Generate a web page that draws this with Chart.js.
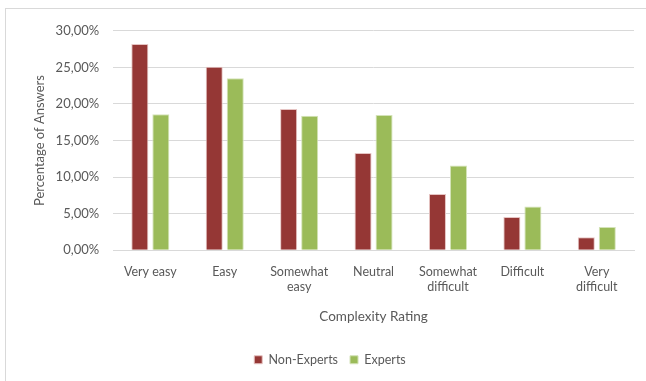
<!DOCTYPE html>
<html>
<head>
<meta charset="utf-8">
<script src="https://cdn.jsdelivr.net/npm/chart.js@4"></script>
<style>
  html, body { margin: 0; padding: 0; background: #fff; }
  #wrap {
    position: absolute; left: 5px; top: 8px; width: 650px; height: 380px;
    border-left: 1px solid #d9d9d9; border-top: 1px solid #d9d9d9;
  }
  #box { position: absolute; left: 0; top: 0; width: 641px; height: 372px; }
</style>
</head>
<body>
<div id="wrap"><div id="box"><canvas id="chart"></canvas></div></div>
<script>
const categories = [['Very easy'], ['Easy'], ['Somewhat', 'easy'], ['Neutral'], ['Somewhat', 'difficult'], ['Difficult'], ['Very', 'difficult']];
const nonExperts = [28.2, 25.1, 19.3, 13.3, 7.7, 4.55, 1.8];
const experts = [18.6, 23.5, 18.4, 18.5, 11.6, 6.0, 3.2];
const yTicks = [0, 5, 10, 15, 20, 25, 30];

const fontFamily = 'Lato, "Open Sans", sans-serif';
const grey = '#595959';

new Chart(document.getElementById('chart'), {
    type: 'bar',
    data: {
        labels: categories,
        datasets: [
            { label: 'Non-Experts', data: nonExperts, backgroundColor: '#953735', borderColor: '#e6c4c3', borderWidth: 1 },
            { label: 'Experts', data: experts, backgroundColor: '#9bbb59', borderColor: '#d4e3b8', borderWidth: 1 }
        ]
    },
    options: {
        responsive: true,
        maintainAspectRatio: false,
        animation: false,
        layout: { padding: { top: 4, right: 13, left: 20, bottom: 5 } },
        datasets: { bar: { categoryPercentage: 0.565, barPercentage: 0.81 } },
        plugins: {
            legend: {
                position: 'bottom',
                labels: { boxWidth: 8, boxHeight: 8, color: grey, font: { family: fontFamily, size: 12.5 }, padding: 12 }
            },
            tooltip: { enabled: false }
        },
        scales: {
            x: {
                grid: { display: false },
                border: { color: '#d9d9d9' },
                ticks: { color: grey, font: { family: fontFamily, size: 12.5 }, maxRotation: 0, autoSkip: false, padding: 6 },
                title: { display: true, text: 'Complexity Rating', color: grey, font: { family: fontFamily, size: 13.5 }, padding: { top: 8, bottom: 17 } }
            },
            y: {
                min: 0, max: 30,
                afterBuildTicks: axis => { axis.ticks = yTicks.map(v => ({ value: v })); },
                grid: { color: '#d9d9d9', drawTicks: false },
                border: { display: false },
                ticks: {
                    color: grey, font: { family: fontFamily, size: 13 }, padding: 14,
                    callback: v => v.toFixed(2).replace('.', ',') + '%'
                },
                title: { display: true, text: 'Percentage of Answers', color: grey, font: { family: fontFamily, size: 13 }, padding: { top: 6, bottom: -6 } }
            }
        }
    }
});
</script>
</body>
</html>
